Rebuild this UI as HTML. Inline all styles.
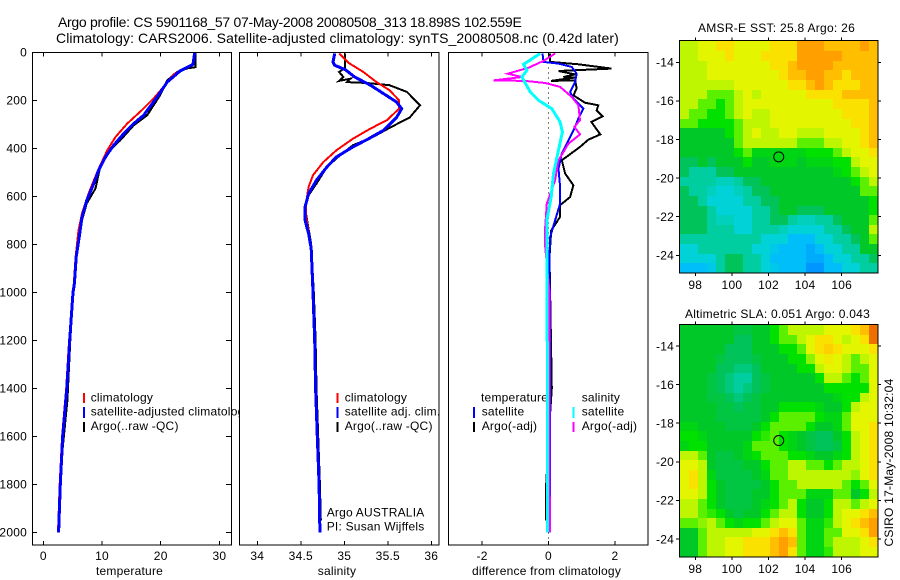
<!DOCTYPE html>
<html>
<head>
<meta charset="utf-8">
<title>Argo profile chart</title>
<style>
html,body{margin:0;padding:0;background:#fff;}
svg{display:block;}
text{font-family:"Liberation Sans",sans-serif;font-size:12px;letter-spacing:.22px;fill:#000;}
.crisp{shape-rendering:crispEdges;}
</style>
</head>
<body>
<svg id="chart" xmlns="http://www.w3.org/2000/svg" width="900" height="580" viewBox="0 0 900 580">
<rect x="0" y="0" width="900" height="580" fill="#fff"/>
<text x="58" y="27" style="font-size:14px" textLength="464" lengthAdjust="spacing">Argo profile: CS 5901168_57 07-May-2008 20080508_313 18.898S 102.559E</text>
<text x="56" y="43" style="font-size:14px" textLength="563" lengthAdjust="spacing">Climatology: CARS2006. Satellite-adjusted climatology: synTS_20080508.nc (0.42d later)</text>
<text x="698" y="32" textLength="157" lengthAdjust="spacing">AMSR-E SST: 25.8 Argo: 26</text>
<text x="685" y="318" textLength="185" lengthAdjust="spacing">Altimetric SLA: 0.051 Argo: 0.043</text>
<text transform="translate(893 546.5) rotate(-90)" textLength="168" lengthAdjust="spacing">CSIRO 17-May-2008 10:32:04</text>
</svg>
<script>
// ---------- depth ticks ----------
const depthTicks = [0,200,400,600,800,1000,1200,1400,1600,1800,2000];
const tempTicks = [0,10,20,30];
const salTicks = [34,34.5,35,35.5,36];
const salTickLabels = ['34','34.5','35','35.5','36'];
const diffTicks = [-2,0,2];
const lonTicks = [98,100,102,104,106];
const latTicks = [-14,-16,-18,-20,-22,-24];

// ---------- temperature profiles ----------
const tempClimDepth = [0,50,92,144,192,241,297,353,408,492,589,672,742,853,964,1200,1400,1600,1800,2000];
const tempClimValue = [25.8,25.5,22.2,20.5,18.8,16.8,14.3,12.3,10.9,9.3,7.7,6.6,6.0,5.5,5.2,4.4,3.9,3.2,2.8,2.5];
const tempSatDepth = [0,50,78,124,186,262,297,339,387,436,492,547,617,686,756,853,964,1000,1200,1400,1600,1800,2000];
const tempSatValue = [25.8,25.5,23.3,21.1,19.4,17.1,15.4,13.7,12.0,10.6,9.4,8.6,7.4,6.6,6.2,5.6,5.3,5.06,4.5,4.0,3.3,2.9,2.6];
const tempArgoDepth = [0,62,67,82,117,179,262,304,367,408,478,567,630,700,800,964,1200,1450,1650,1850,2000];
const tempArgoValue = [25.9,25.9,24.5,22.8,21.1,19.9,17.7,15.4,13.1,11.4,9.7,8.9,7.4,6.6,5.9,5.2,4.6,4.1,3.3,2.8,2.5];

// ---------- salinity profiles ----------
const salClimDepth = [5,44,82,124,158,200,235,283,318,360,408,457,512,561,630,686,742,811,1000,2000];
const salClimValue = [34.94,35.05,35.22,35.37,35.52,35.63,35.63,35.49,35.30,35.10,34.91,34.76,34.64,34.59,34.56,34.56,34.59,34.62,34.64,34.72];
const salSatDepth = [5,40,54,72,103,137,172,207,235,272,325,360,394,436,478,533,589,644,700,756,818,1000,1200,1400,1600,1800,2000];
const salSatValue = [34.89,34.87,34.89,35.01,35.12,35.30,35.45,35.60,35.66,35.60,35.45,35.28,35.10,34.91,34.80,34.68,34.59,34.55,34.55,34.59,34.62,34.64,34.66,34.67,34.69,34.71,34.72];
const salArgoDepth = [5,64,82,103,119,110,124,128,137,165,221,272,311,353,387,429,478,547,596,650,800,1000,1200,1400,1600,1800,1950];
const salArgoValue = [35.01,35.01,34.94,34.99,34.94,35.07,35.03,35.26,35.52,35.72,35.87,35.75,35.54,35.33,35.10,34.95,34.80,34.68,34.59,34.55,34.62,34.65,34.67,34.68,34.70,34.72,34.73];

// ---------- differences from climatology ----------
const diffTempSatDepth = [5,40,47,61,89,124,165,193,235,276,318,367,422,485,561,631,700,769,853,1200,2000];
const diffTempSatValue = [-.18,-.15,.30,.70,.85,.80,.65,.75,1.05,.90,.78,.60,.40,.30,.35,.35,.20,.05,.03,.05,.05];
const diffTempArgoDepth = [5,40,50,68,78,92,103,105,119,117,151,179,210,221,242,267,290,342,364,394,450,505,554,603,637,686,742,853,1400,1500,1800,1950];
const diffTempArgoValue = [.05,.05,.9,1.9,.3,.8,.45,.8,.08,.8,.85,.75,1.1,1.5,1.45,1.63,1.29,1.56,1.2,.95,.4,.5,.75,.65,.35,.35,.08,.03,.1,.05,-.07,-.07];
const diffSalArgoDepth = [5,36,64,89,103,117,119,128,144,186,221,283,311,342,381,450,533,631,728,811,1000,2000];
const diffSalArgoValue = [.2,-.15,-.6,-1.23,-.8,-1.66,-.7,-.1,.35,.7,.9,.95,.78,.95,.6,.3,.2,-.05,-.1,-.1,.03,.04];
const diffSalSatDepth = [5,50,75,103,165,200,235,290,332,408,505,603,700,839,1400,2000];
const diffSalSatValue = [-.25,-.75,-.65,-.8,-.55,-.3,.1,.35,.42,.3,.15,.08,-.05,-.05,-.03,-.03];

// ---------- map grids: sea surface temperature level, north to south, 0.5 degree cells ----------
const sstLevels = [
[8,8,9,9,10,10,9,9,9,9,10,10,10,12,12,12,11,11,11,11,12,11],
[8,8,9,9,9,10,9,9,9,10,10,10,10,12,12,12,12,12,11,11,11,11],
[8,8,8,9,9,9,9,9,9,9,10,10,11,12,12,12,12,11,11,11,11,11],
[8,8,8,9,9,9,9,9,9,9,9,10,11,11,12,12,11,11,10,11,11,11],
[8,8,8,8,8,8,9,9,9,9,9,9,10,10,11,12,11,10,10,10,11,11],
[8,8,8,7,7,7,8,9,8,9,9,9,9,9,10,10,10,10,11,11,11,11],
[8,8,7,7,6,7,8,9,9,9,9,9,9,9,9,9,9,10,10,10,10,11],
[8,7,7,6,6,7,8,9,8,8,9,9,9,9,9,9,9,9,10,10,10,11],
[7,7,6,6,6,6,7,8,8,8,9,9,9,9,9,9,9,9,9,10,10,11],
[5,5,5,5,5,6,7,8,9,8,8,9,9,8,8,8,9,9,9,9,10,11],
[5,5,5,5,5,5,7,8,8,8,8,8,8,7,7,7,8,8,9,9,10,11],
[5,5,5,5,5,5,6,7,5.5,5.5,5.5,5.5,5.5,5.5,6,6,6,7,8,9,9,10],
[4,4,5,4,5,5,5,6,5,5,5.5,5.5,5.5,5,5.5,5.5,5.5,6,6,8,9,9],
[4,3,3,3,4,4,5,5,5,5,5,5,5,5,5,5,5,5.5,6,7,8,9],
[3,3,3,3,2.5,2.5,3,4,4,5,5,5,5,5,5,5,5,5,5,6,7,8],
[4,3,3,2.5,2,2,2.5,3,4,4,5,5,5,5,5,5,5,5,5,5,7,7],
[4,4,3,2,2,2,2,3,3,4,4,5,5,5,5,5,5,5,5,5,5,6],
[4,4,4,3,2,2,2,2,3,3,4,5,5,4,4,4,5,5,5,5,5,6],
[4,4,4,3,2.5,2.5,2,2,3,3,4,4,3,2.5,2.5,3,3,4,5,5,5,7],
[4,4,4,3,3,3,2,2,3,3,3,2.5,2,2,2,2,3,3,4,5,5,8],
[3,3,3,3,3,3,3,3,3,2,2,2,1,1,1,2,2,3,3,4,5,7],
[2,2,3,3,3,3,3,3,2,2,1.5,1,1,1,.5,1,2,2,3,3,5,5],
[2,2,2,2,3,4,4,3,3,2,1,1,1,1,.5,.5,1,2,2,3,3,4],
[1,1,1,1.5,3,4,4,3,3,2,1.5,1,1,1,0,0,1,1,2,2,3,3]
];
// ---------- map grids: sea level anomaly level, north to south, 0.5 degree cells ----------
const slaLevels = [
[5,5,5,5,5,5,4.5,4.5,5,5,6,7,8,8,8,8,9,9,9,10,11,13],
[5,5,5,5,5,5,4,4,5,5,6,7,7,8,9,10,10,9,8,9,10,13],
[5,5,5,5,5,4,4,4,5,5,5,6,6,7,9,10,10.5,10,9,9,9,10],
[5,5,5,5,4.5,4,4,4,4.5,5,5,5,6,6,7.5,9,9.5,9,8,7,8,9],
[5,5,5,5,4,4,3.5,3.5,4,5,5,5,5,6,6,8,9,9,8,7,7,9],
[5,5,5,4.5,4,3.5,3,3,4,4.5,5,5,5,5,5,6,8,8,7,6,7,9],
[5,5,5,4.5,4,3.5,3,3.5,4,4.5,5,5,5,5,5,5,6,6,6,6,6,9],
[5,5,5,4.5,4.5,4,3.5,4,4.5,5,5,5,5,5,5,5,5,5.5,6,6,8,9],
[5,5,5,5,4.5,4.5,4,4.5,4.5,5,5,6,6,6,6,5.5,5,5,6,8,9,9],
[5,5,5,5,4.5,4.5,4.5,4.5,4.5,5,6,7,7,7,7,6,5.5,5.5,7,9,9,9],
[5.5,5.5,5,5,5,4.5,4.5,4.5,5,6,7,7,7,7,6,5,5,5.5,7,9,9,10],
[6,6,5.5,5,5,5,5,5,6,6.5,7,6,5.5,5,4.5,4,4,5,6,8,9,10],
[5.5,6,6,5,5,5,5,5.5,7,7,7,6,5.5,5,4.5,4,4,4.5,6,8,9,10],
[8,8,7,5,4.5,4.5,5,5.5,6,7,7,7,6,6,5.5,5,5,5.5,6,8,9,10],
[9,9,8,5,4.5,4.5,4.5,5,5,6,7,7,8,8,7,7,6,7,8,8,9,10],
[9,10,8,5.5,4.5,4.5,4.5,4.5,5,5.5,7,7,8,8,8,8,8,8,8,7.5,9,10],
[9,10,8,6,5,4.5,4.5,4.5,4.5,5,6,7,7,8,8,8,8,8,7,6,7,9],
[9,9,8,6,5,4.5,4.5,4.5,5,5,6,7,7,7,5.5,5.5,5.5,7,7,5,6,8],
[8,8,7,6,5,4.5,4.5,4.5,5,5.5,6,7,8,6,5,5,6,8,8,7,8,9],
[8,8,7,6.5,6,5,4.5,5,5,6,7,8,8,6,5,5,6,8,9,9,10,11],
[7,7,7.5,8,7,6,5.5,6,6,7,8,9,9,7,5.5,5.5,6.5,8,9,10,11,12],
[5,5,7,8,8,8,8,8,9,9,10,11,10,7,5.5,5.5,7,7,9,9,10,12],
[5,5,7,8,8,9,9,10,10,10,11,12,11,7,5.5,5.5,7,8,8,8,9,10],
[5,5,7,8,8,9,9,10,10,10,11,12,10,7,5.5,5.5,6.5,8,8,8,9,9]
];
const floatLon = 102.559;
const floatLat = -18.898;

// ---------- colour scale ----------
const colourStops = [[0,150,255],[0,190,250],[0,210,215],[0,205,160],[0,195,90],[0,200,40],[0,225,0],[90,240,0],[190,245,0],[228,245,0],[250,225,0],[255,190,0],[255,160,0],[240,110,0]];
function levelColour(v){
  const t = Math.max(0,Math.min(colourStops.length-1,v));
  const i = Math.min(colourStops.length-2,Math.floor(t));
  const f = t-i;
  const a = colourStops[i], b = colourStops[i+1];
  return 'rgb('+[0,1,2].map(k=>Math.round(a[k]+(b[k]-a[k])*f)).join(',')+')';
}

// ---------- axis functions ----------
const yDepth = d => 52.3 + d*0.24;
const xTemp = v => 43.3 + v*5.87;
const xSal = v => 257.3 + (v-34)*87;
const xDiff = v => 548.5 + v*33.2;
const xLon = lon => 695.3 + (lon-98)*18.3;
const yLatTop = lat => 62.3 + (-14-lat)*19.3;
const yLatBottom = lat => 346 + (-14-lat)*19.3;

const svg = document.getElementById('chart');
const NS = 'http://www.w3.org/2000/svg';
function make(tag,parent){
  const el = document.createElementNS(NS,tag);
  (parent||svg).appendChild(el);
  return el;
}
function drawLine(x1,y1,x2,y2,colour,width){
  const el = make('line');
  el.setAttribute('x1',x1);
  el.setAttribute('y1',y1);
  el.setAttribute('x2',x2);
  el.setAttribute('y2',y2);
  el.setAttribute('stroke',colour);
  el.setAttribute('stroke-width',width);
  el.setAttribute('class','crisp');
  return el;
}
function drawText(x,y,str,anchor){
  const el = make('text');
  el.setAttribute('x',x);
  el.setAttribute('y',y);
  el.setAttribute('text-anchor',anchor||'start');
  el.textContent = str;
  return el;
}
function drawCurve(depths,values,xf,colour,width){
  const el = make('polyline');
  el.setAttribute('points',depths.map((d,i)=>xf(values[i]).toFixed(1)+','+yDepth(d).toFixed(1)).join(' '));
  el.setAttribute('fill','none');
  el.setAttribute('stroke',colour);
  el.setAttribute('stroke-width',width);
  el.setAttribute('class','crisp');
  return el;
}
function drawFrame(x,y,w,h){
  const el = make('rect');
  el.setAttribute('x',x);
  el.setAttribute('y',y);
  el.setAttribute('width',w);
  el.setAttribute('height',h);
  el.setAttribute('fill','none');
  el.setAttribute('stroke','#000');
  el.setAttribute('stroke-width',1);
  el.setAttribute('class','crisp');
  return el;
}
function drawLegendBar(x,y1,y2,colour){
  const el = drawLine(x,y1,x,y2,colour,2);
  
  
}
function drawLegendText(x,y,str){
  const el = drawText(x,y,str);
  
  
}
function drawXTicks(ticks,labels,xf,top,bottom,labelY){
  ticks.forEach((t,i)=>{
    const a = drawLine(xf(t),top,xf(t),top+4,'#000',1);
    
    
    const b = drawLine(xf(t),bottom-4,xf(t),bottom,'#000',1);
    
    
    const l = drawText(xf(t),labelY,labels[i],'middle');
    
    
  });
}

// ---------- legends sit under the curves; the next panel's white background clips the long legend text ----------
drawLegendBar(84,393,403,'#f00');
drawLegendBar(84,407,418,'#00f');
drawLegendBar(84,422,432,'#000');
drawLegendText(90.7,401.7,'climatology');
drawLegendText(90.7,415.7,'satellite-adjusted climatology');
drawLegendText(90.7,430,'Argo(..raw -QC)');

// Panel 1 curves
const t1 = drawCurve(tempArgoDepth,tempArgoValue,xTemp,'#000',2);


const t2 = drawCurve(tempClimDepth,tempClimValue,xTemp,'#f00',2);


const t3 = drawCurve(tempSatDepth,tempSatValue,xTemp,'#00f',3);



const f1 = drawFrame(32.5,52.5,199,492.5);


drawXTicks(tempTicks,tempTicks.map(String),xTemp,52.5,545,560);
depthTicks.forEach(d=>{
  const a = drawLine(32.5,yDepth(d),37,yDepth(d),'#000',1);
  
  
  const b = drawLine(226,yDepth(d),231.5,yDepth(d),'#000',1);
  
  
  const l = drawText(27,yDepth(d)+4.3,String(d),'end');
  
  
});
const xt1 = drawText(129.5,575,'temperature','middle');



// Panel 2
const cover2 = make('rect');
cover2.setAttribute('x',239.5);
cover2.setAttribute('y',52);
cover2.setAttribute('width',200);
cover2.setAttribute('height',494);
cover2.setAttribute('fill','#fff');


drawLegendBar(337.7,393,403,'#f00');
drawLegendBar(337.7,407,418,'#00f');
drawLegendBar(337.7,422,432,'#000');
drawLegendText(344.7,401.7,'climatology');
drawLegendText(344.7,415.7,'satellite adj. clim.');
drawLegendText(344.7,430,'Argo(..raw -QC)');
const ga = drawText(326.7,516.7,'Argo AUSTRALIA');


const gb = drawText(326.7,530.7,'PI: Susan Wijffels');


const s1 = drawCurve(salArgoDepth,salArgoValue,xSal,'#000',2);


const s2 = drawCurve(salClimDepth,salClimValue,xSal,'#f00',2);


const s3 = drawCurve(salSatDepth,salSatValue,xSal,'#00f',3);


const f2 = drawFrame(239.5,52.5,199.5,492.5);


drawXTicks(salTicks,salTickLabels,xSal,52.5,545,560);
const xt2 = drawText(337,575,'salinity','middle');



// Panel 3
drawLegendText(481,401.7,'temperature');
drawLegendText(481.7,415.7,'satellite');
drawLegendText(481.7,430,'Argo(-adj)');
drawLegendText(581.7,401.7,'salinity');
drawLegendText(581.7,415.7,'satellite');
drawLegendText(581.7,430,'Argo(-adj)');
drawLegendBar(474,407,418,'#00f');
drawLegendBar(474,422,432,'#000');
drawLegendBar(573.7,407,418,'#0ff');
drawLegendBar(573.7,422,432,'#f0f');
const zero = drawLine(xDiff(0),52.5,xDiff(0),545,'#000',1);
zero.setAttribute('stroke-dasharray','1 4');


const d1 = drawCurve(diffTempArgoDepth,diffTempArgoValue,xDiff,'#000',2);


const d2 = drawCurve(diffTempSatDepth,diffTempSatValue,xDiff,'#00f',2);


const d3 = drawCurve(diffSalArgoDepth,diffSalArgoValue,xDiff,'#f0f',2);


const d4 = drawCurve(diffSalSatDepth,diffSalSatValue,xDiff,'#0ff',3);


const f3 = drawFrame(448.5,52.5,199.5,492.5);


drawXTicks(diffTicks,diffTicks.map(String),xDiff,52.5,545,560);
const xt3 = drawText(546.5,575,'difference from climatology','middle');



// Maps
const LON0 = 97.14, LAT0_TOP = -12.92, LAT0_BOTTOM = -12.92, CELL_LON = 0.492, CELL_LAT = 0.5;
function drawMap(levels,yLat,lat0,name,labelY){
  const top = Math.round(yLat(lat0));
  const bottom = Math.round(yLat(lat0-levels.length*CELL_LAT));
  levels.forEach((row,r)=>{
    row.forEach((v,c)=>{
      const x0 = xLon(LON0+c*CELL_LON), x1 = xLon(LON0+(c+1)*CELL_LON);
      const y0 = yLat(lat0-r*CELL_LAT), y1 = yLat(lat0-(r+1)*CELL_LAT);
      const cell = make('rect');
      cell.setAttribute('x',Math.round(x0));
      cell.setAttribute('y',Math.round(y0));
      cell.setAttribute('width',Math.round(x1)-Math.round(x0));
      cell.setAttribute('height',Math.round(y1)-Math.round(y0));
      cell.setAttribute('fill',levelColour(v));
      cell.setAttribute('class','crisp');
      
      
    });
  });
  const fr = drawFrame(679.5,top-.5,198.5,bottom-top+.5);
  
  
  lonTicks.forEach(t=>{
    const a = drawLine(xLon(t),top-3.5,xLon(t),top,'#000',1);
    
    
    const b = drawLine(xLon(t),bottom,xLon(t),bottom+3,'#000',1);
    
    
    const l = drawText(xLon(t),labelY,String(t),'middle');
    
    
  });
  latTicks.forEach(t=>{
    const a = drawLine(676,yLat(t),679.5,yLat(t),'#000',1);
    
    
    const b = drawLine(878,yLat(t),881,yLat(t),'#000',1);
    
    
    const l = drawText(674,yLat(t)+4.3,String(t),'end');
    
    
  });
  const m = make('circle');
  m.setAttribute('cx',xLon(floatLon));
  m.setAttribute('cy',yLat(floatLat));
  m.setAttribute('r',5);
  m.setAttribute('fill','none');
  m.setAttribute('stroke','#000');
  m.setAttribute('stroke-width',1);
  
  
}
drawMap(sstLevels,yLatTop,LAT0_TOP,'sst-map',289);
drawMap(slaLevels,yLatBottom,LAT0_BOTTOM,'sla-map',573);
</script>
</body>
</html>
